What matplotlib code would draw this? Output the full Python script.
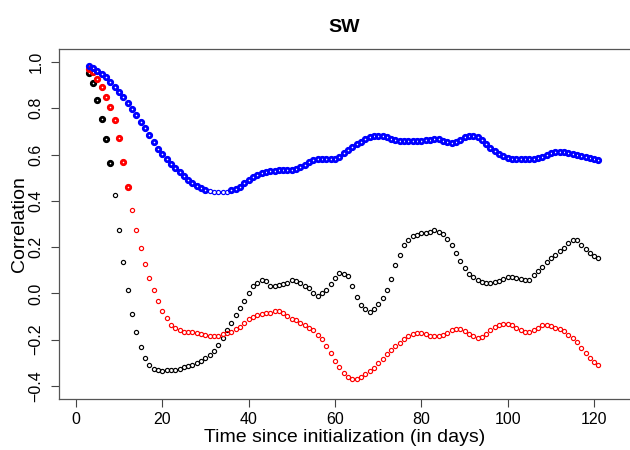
import numpy as np
import matplotlib
matplotlib.use("Agg")
import matplotlib.pyplot as plt

plt.rcParams["font.family"] = ["Liberation Sans", "DejaVu Sans"]

days = list(range(3, 122))

corr_blue = [
    0.983, 0.975, 0.962, 0.950, 0.933, 0.913, 0.893, 0.870, 0.847, 0.824,
    0.797, 0.770, 0.742, 0.713, 0.683, 0.653, 0.625, 0.602, 0.580, 0.560,
    0.543, 0.526, 0.508, 0.492, 0.478, 0.466, 0.456, 0.448, 0.442, 0.438,
    0.437, 0.437, 0.439, 0.445, 0.452, 0.462, 0.475, 0.490, 0.503, 0.513,
    0.520, 0.526, 0.529, 0.531, 0.532, 0.532, 0.532, 0.533, 0.538, 0.546,
    0.556, 0.566, 0.575, 0.579, 0.580, 0.580, 0.579, 0.580, 0.590, 0.605,
    0.618, 0.632, 0.645, 0.656, 0.666, 0.674, 0.679, 0.681, 0.680, 0.675,
    0.668, 0.663, 0.660, 0.658, 0.657, 0.657, 0.657, 0.658, 0.661, 0.665,
    0.667, 0.666, 0.660, 0.654, 0.652, 0.656, 0.665, 0.675, 0.681, 0.682,
    0.676, 0.662, 0.645, 0.628, 0.614, 0.602, 0.592, 0.585, 0.581, 0.580,
    0.580, 0.580, 0.581, 0.582, 0.584, 0.590, 0.598, 0.605, 0.610, 0.613,
    0.612, 0.608, 0.603, 0.599, 0.594, 0.588, 0.583, 0.579, 0.576,
]

corr_red = [
    0.970, 0.955, 0.925, 0.891, 0.850, 0.805, 0.750, 0.672, 0.569, 0.461,
    0.362, 0.274, 0.197, 0.128, 0.066, 0.014, -0.034, -0.075, -0.106, -0.137,
    -0.151, -0.159, -0.165, -0.168, -0.168, -0.170, -0.175, -0.181, -0.185, -0.185,
    -0.182, -0.176, -0.169, -0.166, -0.155, -0.144, -0.129, -0.112, -0.100, -0.095,
    -0.090, -0.086, -0.083, -0.076, -0.076, -0.083, -0.098, -0.109, -0.116, -0.126,
    -0.138, -0.148, -0.159, -0.178, -0.198, -0.227, -0.259, -0.290, -0.319, -0.342,
    -0.359, -0.368, -0.368, -0.359, -0.349, -0.336, -0.322, -0.302, -0.284, -0.263,
    -0.244, -0.227, -0.213, -0.195, -0.183, -0.176, -0.172, -0.172, -0.176, -0.184,
    -0.184, -0.184, -0.180, -0.170, -0.158, -0.152, -0.155, -0.162, -0.174, -0.184,
    -0.192, -0.187, -0.175, -0.159, -0.147, -0.138, -0.134, -0.134, -0.137, -0.148,
    -0.159, -0.167, -0.167, -0.158, -0.148, -0.138, -0.138, -0.141, -0.148, -0.155,
    -0.162, -0.178, -0.191, -0.210, -0.234, -0.259, -0.281, -0.296, -0.310,
]

corr_black = [
    0.954, 0.908, 0.836, 0.754, 0.668, 0.563, 0.427, 0.276, 0.135, 0.014,
    -0.088, -0.167, -0.231, -0.277, -0.307, -0.325, -0.332, -0.333, -0.332, -0.330,
    -0.330, -0.325, -0.318, -0.313, -0.310, -0.302, -0.292, -0.281, -0.266, -0.249,
    -0.223, -0.194, -0.160, -0.129, -0.092, -0.063, -0.031, 0.003, 0.032, 0.047,
    0.057, 0.052, 0.031, 0.031, 0.036, 0.039, 0.046, 0.060, 0.055, 0.046,
    0.034, 0.022, 0.000, -0.009, 0.003, 0.014, 0.039, 0.067, 0.089, 0.085,
    0.075, 0.031, -0.017, -0.052, -0.066, -0.080, -0.069, -0.046, -0.020, 0.014,
    0.063, 0.121, 0.168, 0.208, 0.233, 0.247, 0.254, 0.259, 0.260, 0.266,
    0.273, 0.266, 0.256, 0.237, 0.208, 0.175, 0.142, 0.112, 0.086, 0.069,
    0.056, 0.049, 0.043, 0.044, 0.049, 0.055, 0.063, 0.072, 0.072, 0.068,
    0.063, 0.060, 0.060, 0.078, 0.095, 0.115, 0.138, 0.155, 0.168, 0.182,
    0.197, 0.219, 0.231, 0.230, 0.211, 0.193, 0.175, 0.161, 0.152,
]

# which days are drawn with the heavy circles
black_heavy_until = 8
red_heavy_until = 12
blue_light_days = (31, 35)

d = np.array(days)


def draw(ax, y, color, heavy):
    y = np.array(y)
    ax.plot(d[heavy], y[heavy], "o", mfc="none", mec=color, ms=3.2, mew=2.0,
            linestyle="none")
    ax.plot(d[~heavy], y[~heavy], "o", mfc="none", mec=color, ms=3.0, mew=0.85,
            linestyle="none")


fig = plt.figure(figsize=(6.3, 4.5), dpi=100)
ax = fig.add_axes([59 / 630, 51 / 450, 571 / 630, 350 / 450])

draw(ax, corr_black, "black", d <= black_heavy_until)
draw(ax, corr_red, "red", d <= red_heavy_until)
draw(ax, corr_blue, "blue", (d < blue_light_days[0]) | (d > blue_light_days[1]))

ax.set_xlim(-3.9, 128.3)
ax.set_ylim(-0.456, 1.056)
ax.set_xticks([0, 20, 40, 60, 80, 100, 120])
ax.set_yticks([-0.4, -0.2, 0.0, 0.2, 0.4, 0.6, 0.8, 1.0])
ax.set_yticklabels(["\u22120.4", "\u22120.2", "0.0", "0.2", "0.4", "0.6", "0.8", "1.0"],
                   rotation=90, va="center")
ax.tick_params(labelsize=11.5, length=6, width=0.8, color="#444444")
ax.tick_params(axis="y", pad=5)
ax.tick_params(axis="x", pad=3)
ax.spines["right"].set_visible(False)
for s in ["left", "top", "bottom"]:
    ax.spines[s].set_color("#555555")
    ax.spines[s].set_linewidth(0.9)

ax.set_xlabel("Time since initialization (in days)", fontsize=14, labelpad=2)
ax.set_ylabel("Correlation", fontsize=14, labelpad=0.5)
ax.set_title("SW", fontsize=14, fontweight="bold", pad=12)

plt.savefig("out.png", dpi=100)
